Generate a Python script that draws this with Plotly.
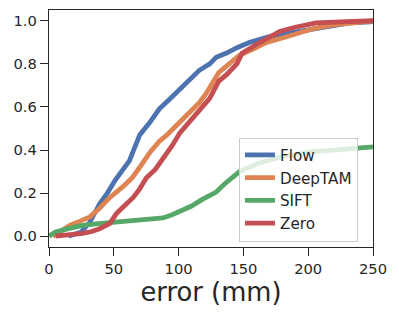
import plotly.graph_objects as go

# Flow
flow_x = [15, 25, 31.5, 39, 45, 51, 62, 70, 78, 85, 92, 101, 108, 116, 124, 129, 137, 145, 155, 165, 172, 183, 193, 205, 218, 232, 248, 250]
flow_y = [0.0, 0.02, 0.065, 0.15, 0.2, 0.26, 0.35, 0.47, 0.53, 0.59, 0.63, 0.68, 0.72, 0.77, 0.8, 0.83, 0.85, 0.875, 0.9, 0.92, 0.93, 0.94, 0.95, 0.965, 0.98, 0.99, 0.995, 1.0]

# DeepTAM
deeptam_x = [3, 10, 16, 24, 31.5, 39, 47, 57, 64, 70, 78, 85, 91, 101, 106, 116, 121, 131, 139, 147, 158, 168, 180, 193, 205, 218, 235, 250]
deeptam_y = [0.0, 0.03, 0.05, 0.07, 0.09, 0.13, 0.18, 0.23, 0.27, 0.32, 0.39, 0.44, 0.47, 0.53, 0.56, 0.62, 0.66, 0.76, 0.8, 0.84, 0.87, 0.9, 0.92, 0.945, 0.965, 0.98, 0.99, 1.0]

# SIFT
sift_x = [0, 5, 15, 26, 38, 49, 65, 78, 88, 95, 103, 110, 118, 124, 129, 135, 142, 147, 160, 180, 200, 225, 250]
sift_y = [0.0, 0.02, 0.035, 0.05, 0.058, 0.065, 0.072, 0.08, 0.085, 0.1, 0.12, 0.14, 0.17, 0.19, 0.205, 0.24, 0.275, 0.3, 0.335, 0.37, 0.39, 0.405, 0.415]

# Zero
zero_x = [5, 15, 26, 33, 39, 47, 52, 58, 65, 70, 75, 82, 88, 95, 101, 108, 116, 124, 131, 137, 145, 149, 160, 170, 178, 190, 206, 225, 250]
zero_y = [0.0, 0.005, 0.013, 0.022, 0.035, 0.06, 0.105, 0.14, 0.18, 0.22, 0.27, 0.31, 0.36, 0.42, 0.48, 0.53, 0.59, 0.64, 0.72, 0.75, 0.8, 0.85, 0.89, 0.92, 0.95, 0.97, 0.99, 0.995, 1.0]

series = [
    ("Flow", flow_x, flow_y, "#4C72B0"),
    ("DeepTAM", deeptam_x, deeptam_y, "#DD8452"),
    ("SIFT", sift_x, sift_y, "#55A868"),
    ("Zero", zero_x, zero_y, "#C44E52"),
]

x_ticks = [0, 50, 100, 150, 200, 250]
y_ticks = [0.0, 0.2, 0.4, 0.6, 0.8, 1.0]

fig = go.Figure()
for name, xs, ys, col in series:
    fig.add_trace(go.Scatter(x=xs, y=ys, mode="lines", name=name,
                             line=dict(color=col, width=4.8)))

axis_common = dict(
    showgrid=False, zeroline=False, showline=True, linecolor="#262626", linewidth=1.4,
    mirror=True, ticks="outside", ticklen=8, tickwidth=1.4, tickcolor="#262626",
    tickfont=dict(family="DejaVu Sans", size=14.7, color="#262626"),
)

# page body has an 8px default margin, so the figure is 8px smaller
fig.update_layout(
    width=391, height=310,
    margin=dict(l=41, r=26, t=2, b=71),
    plot_bgcolor="white", paper_bgcolor="white",
    xaxis=dict(range=[0, 250], tickvals=x_ticks, ticktext=[str(v) for v in x_ticks],
               title=dict(text="error (mm)", font=dict(family="DejaVu Sans", size=25.8, color="#262626"), standoff=6),
               **axis_common),
    yaxis=dict(range=[-0.05, 1.05], tickvals=y_ticks, ticktext=[f"{v:.1f}" for v in y_ticks],
               **axis_common),
    legend=dict(x=0.77, y=0.2426, xanchor="center", yanchor="middle",
                bgcolor="rgba(255,255,255,0.8)", bordercolor="#cccccc", borderwidth=1,
                font=dict(family="DejaVu Sans", size=15.2, color="#262626"),
                tracegroupgap=0, itemwidth=30),
    showlegend=True,
)

fig.write_html("out.html")
